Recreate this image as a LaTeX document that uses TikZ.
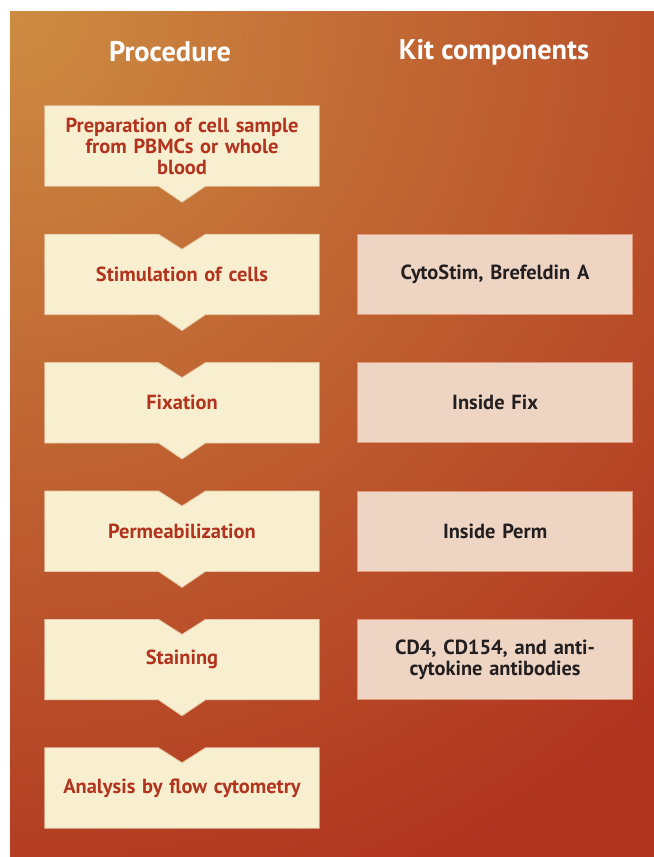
\documentclass[tikz,border=0pt]{standalone}
\usepackage{fontspec}
\setmainfont{PT Sans}
\usepackage{xcolor}
\usetikzlibrary{positioning, calc, backgrounds}

\definecolor{bgtop}{HTML}{CD8C42}
\definecolor{bgmid}{HTML}{BD532A}
\definecolor{bgbot}{HTML}{B0341F}
\definecolor{stepfill}{HTML}{F7EFD0}
\definecolor{stepline}{HTML}{E6C7A4}
\definecolor{steptext}{HTML}{B2331E}
\definecolor{kitfill}{HTML}{EED5C3}
\definecolor{kitline}{HTML}{E09A7A}
\definecolor{kittext}{HTML}{231F20}

\begin{document}
\begin{tikzpicture}[
    x=1bp, y=-1bp,
    node distance=48bp and 38bp,
    stepbox/.style={rectangle, minimum width=274bp, minimum height=80bp, text width=268bp, align=center, inner sep=0pt, text=steptext, font=\bfseries\fontsize{20.5}{21}\selectfont},
    kitbox/.style={rectangle, draw=kitline, line width=0.8bp, fill=kitfill, minimum width=275bp, minimum height=80bp, text width=268bp, align=center, inner sep=0pt, text=kittext, font=\bfseries\fontsize{20.5}{21}\selectfont},
    header/.style={text=white, font=\bfseries\fontsize{28.5}{31}\selectfont}
]
\useasboundingbox (0,0) rectangle (654,857);

\node (hproc) [header] at (170,52) {Procedure};
\node (hkit) [header] at (494,52) {Kit components};

\node (prep) [stepbox] at (182,146) {Preparation of cell sample\\from PBMCs or whole\\blood};
\node (stim) [stepbox, below=of prep] {Stimulation of cells};
\node (fix) [stepbox, below=of stim] {Fixation};
\node (perm) [stepbox, below=of fix] {Permeabilization};
\node (stain) [stepbox, below=of perm] {Staining};
\node (flow) [stepbox, below=of stain] {Analysis by flow cytometry};

\node (kstim) [kitbox, right=of stim] {CytoStim, Brefeldin A};
\node (kfix) [kitbox, right=of fix] {Inside Fix};
\node (kperm) [kitbox, right=of perm] {Inside Perm};
\node (kstain) [kitbox, right=of stain] {CD4, CD154, and anti-\\cytokine antibodies};

\begin{scope}[on background layer]
  \fill[white] (0,0) rectangle (654,857);
  \begin{scope}
    \clip (10,11) rectangle (654,857);
    \fill[bgbot] (10,11) rectangle (654,857);
    \shade[inner color=bgtop, middle color=bgmid, outer color=bgbot] (10,11) circle (950);
  \end{scope}
  % step boxes: notch on top, pointer below
  \foreach \n/\top/\bot in {prep/0/16, stim/15/16, fix/15/16, perm/15/16, stain/15/16, flow/15/0} {
    \filldraw[fill=stepfill, draw=stepline, line width=0.8bp]
      (\n.north west) -- ($(\n.north)+(-23.5,0)$) -- ($(\n.north)+(0,\top)$) -- ($(\n.north)+(23.5,0)$)
      -- (\n.north east) -- (\n.south east)
      -- ($(\n.south)+(23.5,0)$) -- ($(\n.south)+(0,\bot)$) -- ($(\n.south)+(-23.5,0)$)
      -- (\n.south west) -- cycle;
  }
\end{scope}
\end{tikzpicture}
\end{document}
